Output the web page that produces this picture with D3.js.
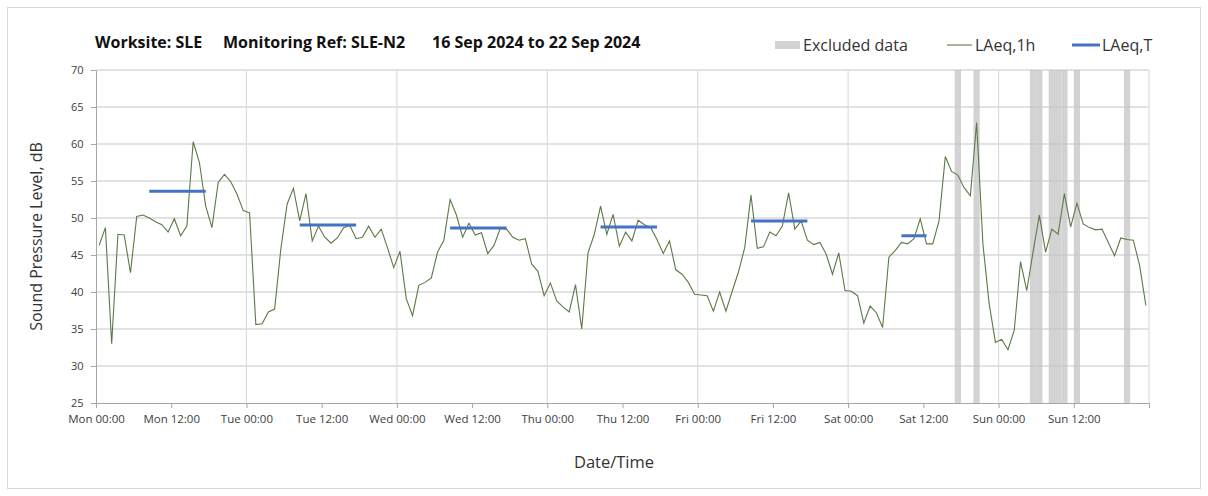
<!DOCTYPE html>
<html lang="en">
<head>
    <meta charset="UTF-8">
    <title>SLE-N2 Noise Monitoring</title>
    <style>
        body {
            margin: 0;
            padding: 0;
            background: #fff;
            font-family: "Open Sans", sans-serif;
        }

        .axis text {
            font-family: "Open Sans", sans-serif;
            fill: #404040;
        }

        .axis path,
        .axis line {
            stroke: #a6a6a6;
        }

        .grid-h {
            stroke: #c6c6c6;
            stroke-width: 1.2;
        }

        .grid-v {
            stroke: #dcdcdc;
            stroke-width: 1.2;
        }
    </style>
</head>
<body>
    <div id="chart"></div>
    <script src="https://d3js.org/d3.v7.min.js"></script>
    <script>
        // hourly LAeq,1h values, Mon 16 Sep 2024 00:00 onwards (168 hours)
        const laeq1h = [
            46.3, 48.7, 33.0, 47.8, 47.7, 42.6, 50.2, 50.4, 50.0, 49.5, 49.1, 48.1,
            49.9, 47.6, 48.9, 60.3, 57.5, 51.6, 48.7, 54.8, 55.9, 54.9, 53.2, 51.0,
            50.7, 35.6, 35.7, 37.3, 37.7, 45.9, 51.9, 54.0, 49.6, 53.3, 46.9, 48.9,
            47.4, 46.6, 47.3, 48.7, 49.0, 47.2, 47.4, 48.9, 47.4, 48.5, 46.0, 43.3,
            45.5, 39.1, 36.8, 40.9, 41.3, 41.9, 45.4, 47.0, 52.5, 50.4, 47.4, 49.3,
            47.7, 48.0, 45.2, 46.3, 48.6, 48.5, 47.4, 47.0, 47.2, 43.8, 42.8, 39.5,
            41.2, 38.8, 38.0, 37.3, 41.0, 35.0, 45.3, 47.8, 51.6, 47.8, 50.5, 46.2,
            48.1, 46.9, 49.7, 49.1, 48.7, 47.1, 45.2, 46.9, 43.0, 42.4, 41.3, 39.7,
            39.6, 39.5, 37.4, 40.0, 37.4, 40.1, 42.7, 46.0, 53.1, 45.9, 46.1, 48.1,
            47.6, 48.9, 53.4, 48.5, 49.6, 47.0, 46.4, 46.7, 45.1, 42.4, 45.3, 40.2,
            40.1, 39.5, 35.8, 38.1, 37.2, 35.2, 44.7, 45.6, 46.7, 46.5, 47.2, 49.9,
            46.5, 46.5, 49.6, 58.3, 56.3, 55.8, 54.1, 53.0, 62.9, 46.5, 38.4, 33.2,
            33.6, 32.2, 34.8, 44.1, 40.2, 45.4, 50.4, 45.4, 48.5, 47.8, 53.3, 48.8,
            52.0, 49.2, 48.7, 48.4, 48.5, 46.7, 44.9, 47.3, 47.1, 47.0, 43.6, 38.2
        ];

        // LAeq,T periods (hour index of first and last hour) and values
        const laeqTStart = [8, 32, 56, 80, 104, 128];
        const laeqTEnd = [17, 41, 65, 89, 113, 132];
        const laeqTValue = [53.6, 49.05, 48.65, 48.8, 49.6, 47.6];

        // hours marked as excluded data
        const excludedHours = [137, 140, 149, 150, 152, 153, 154, 156, 164];

        const yTicks = [25, 30, 35, 40, 45, 50, 55, 60, 65, 70];

        const start = new Date(2024, 8, 16, 0, 0);
        const end = new Date(2024, 8, 23, 0, 0);
        const hourAt = h => new Date(start.getTime() + h * 3600000);

        const W = 1208, H = 496;
        const plotLeft = 96, plotRight = 1149, plotTop = 70, plotBottom = 403;

        const svg = d3.select("#chart").append("svg")
            .attr("width", W)
            .attr("height", H);

        // outer chart frame
        svg.append("rect")
            .attr("x", 7.5).attr("y", 7.5)
            .attr("width", 1193).attr("height", 481)
            .attr("fill", "none")
            .attr("stroke", "#d9d9d9");

        const x = d3.scaleTime().domain([start, end]).range([plotLeft, plotRight]);
        const y = d3.scaleLinear().domain([25, 70]).range([plotBottom, plotTop]);

        const xTickVals = d3.range(0, 169, 12).map(hourAt);
        const dayVals = d3.range(0, 169, 24).map(hourAt);

        // excluded data bands
        svg.append("g").selectAll("rect")
            .data(excludedHours)
            .enter().append("rect")
            .attr("x", h => x(hourAt(h)))
            .attr("width", h => x(hourAt(h + 1)) - x(hourAt(h)))
            .attr("y", y(70))
            .attr("height", y(25) - y(70))
            .attr("fill", "#d3d3d3");

        // gridlines
        svg.append("g").selectAll("line")
            .data(yTicks.slice(1))
            .enter().append("line")
            .attr("class", "grid-h")
            .attr("x1", plotLeft).attr("x2", plotRight)
            .attr("y1", d => y(d)).attr("y2", d => y(d));

        svg.append("g").selectAll("line")
            .data(dayVals.slice(1))
            .enter().append("line")
            .attr("class", "grid-v")
            .attr("x1", d => x(d)).attr("x2", d => x(d))
            .attr("y1", y(70)).attr("y2", y(25));

        // axes
        const fmt = d3.timeFormat("%a %H:%M");
        svg.append("g")
            .attr("class", "axis")
            .attr("transform", "translate(0," + plotBottom + ")")
            .call(d3.axisBottom(x)
                .tickValues(xTickVals)
                .tickSize(5)
                .tickSizeOuter(0)
                .tickFormat(d => d < end ? fmt(d) : ""))
            .call(g => g.selectAll("text").attr("dy", "1.05em").style("font-size", "11.5px"));

        svg.append("g")
            .attr("class", "axis")
            .attr("transform", "translate(" + plotLeft + ",0)")
            .call(d3.axisLeft(y)
                .tickValues(yTicks)
                .tickSize(5)
                .tickSizeOuter(0))
            .call(g => g.selectAll("text").attr("dx", "-0.4em").style("font-size", "11px"));

        // LAeq,1h line
        const line = d3.line()
            .x((d, i) => x(hourAt(i + 0.5)))
            .y(d => y(d));

        svg.append("path")
            .datum(laeq1h)
            .attr("fill", "none")
            .attr("stroke", "#5b7a45")
            .attr("stroke-width", 1.1)
            .attr("d", line);

        // LAeq,T lines
        svg.append("g").selectAll("line")
            .data(laeqTValue)
            .enter().append("line")
            .attr("x1", (d, i) => x(hourAt(laeqTStart[i] + 0.5)))
            .attr("x2", (d, i) => x(hourAt(laeqTEnd[i] + 0.5)))
            .attr("y1", d => y(d))
            .attr("y2", d => y(d))
            .attr("stroke", "#4472c4")
            .attr("stroke-width", 3);

        // title
        const title = svg.append("g")
            .style("font-family", "'Open Sans', sans-serif")
            .style("font-size", "16px")
            .style("font-weight", "bold")
            .attr("fill", "#111");
        title.append("text").attr("x", 95).attr("y", 48).text("Worksite: SLE");
        title.append("text").attr("x", 223).attr("y", 48).text("Monitoring Ref: SLE-N2");
        title.append("text").attr("x", 432).attr("y", 48).text("16 Sep 2024 to 22 Sep 2024");

        // legend
        const legend = svg.append("g")
            .style("font-family", "'Open Sans', sans-serif")
            .style("font-size", "16px")
            .attr("fill", "#333");
        legend.append("rect")
            .attr("x", 775).attr("y", 41).attr("width", 25).attr("height", 8)
            .attr("fill", "#d3d3d3");
        legend.append("text").attr("x", 803).attr("y", 51).text("Excluded data");
        legend.append("line")
            .attr("x1", 947).attr("x2", 972).attr("y1", 45).attr("y2", 45)
            .attr("stroke", "#5b7a45").attr("stroke-width", 1.1);
        legend.append("text").attr("x", 975).attr("y", 51).text("LAeq,1h");
        legend.append("line")
            .attr("x1", 1072).attr("x2", 1100).attr("y1", 45).attr("y2", 45)
            .attr("stroke", "#4472c4").attr("stroke-width", 3);
        legend.append("text").attr("x", 1102).attr("y", 51).text("LAeq,T");

        // axis titles
        svg.append("text")
            .attr("transform", "rotate(-90)")
            .attr("x", -(plotTop + plotBottom) / 2)
            .attr("y", 42)
            .attr("text-anchor", "middle")
            .style("font-size", "16px")
            .attr("fill", "#333")
            .text("Sound Pressure Level, dB");

        svg.append("text")
            .attr("x", 614)
            .attr("y", 468)
            .attr("text-anchor", "middle")
            .style("font-size", "16.5px")
            .attr("fill", "#333")
            .text("Date/Time");
    </script>
</body>
</html>
